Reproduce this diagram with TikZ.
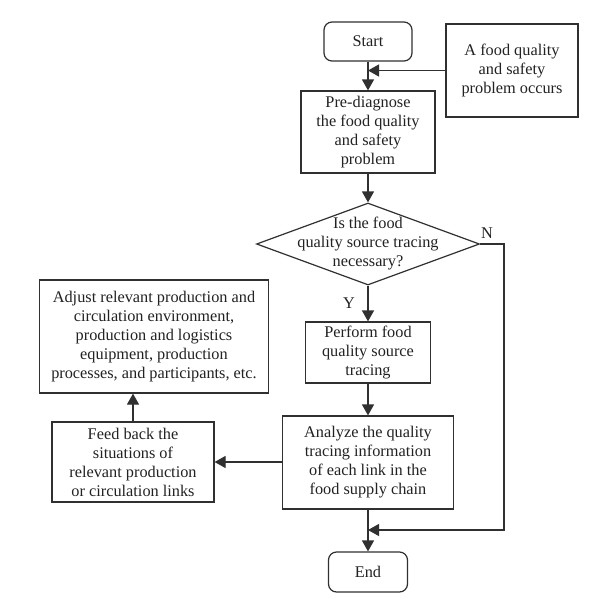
\documentclass[tikz,border=0pt]{standalone}
\usepackage{fontspec}
\setmainfont{Liberation Serif}
\usetikzlibrary{shapes.geometric,arrows.meta}
\definecolor{linec}{HTML}{303030}
\definecolor{textc}{HTML}{222222}
\begin{document}
\begin{tikzpicture}[x=1pt,y=-1pt,
  line/.style={draw=linec, line width=1.2pt},
  txt/.style={align=center, inner sep=0pt, font=\fontsize{16.3}{19}\selectfont, text=textc},
  box/.style={txt, draw=linec, line width=1.2pt, rectangle},
  term/.style={box, rounded corners=8pt},
  arr/.style={line, -{Triangle[length=11pt,width=12pt]}}
]
\useasboundingbox[fill=white] (0,0) rectangle (600,614);
\node[term, minimum width=88pt, minimum height=39pt] (start) at (368,41.5) {Start};
\node[box, minimum width=132pt, minimum height=93pt] (prob) at (512,70.5) {A food quality\\and safety\\problem occurs};
\node[box, minimum width=134pt, minimum height=82pt] (pre) at (368,132) {Pre-diagnose\\the food quality\\and safety\\problem};
\node[diamond, draw=linec, line width=1.2pt, minimum width=223pt, minimum height=82pt, inner sep=0pt] (dec) at (368,244) {};
\node[txt] (dectxt) at (dec.center) {Is the food\\quality source tracing\\necessary?};
\node[box, minimum width=125pt, minimum height=61pt] (perf) at (368,352.5) {Perform food\\quality source\\tracing};
\node[box, minimum width=171pt, minimum height=93pt] (ana) at (368,462.5) {Analyze the quality\\tracing information\\of each link in the\\food supply chain};
\node[term, minimum width=79pt, minimum height=40pt] (end) at (368,572) {End};
\node[box, minimum width=229pt, minimum height=113pt] (adj) at (154,336.5) {Adjust relevant production and\\circulation environment,\\production and logistics\\equipment, production\\processes, and participants, etc.};
\node[box, minimum width=162pt, minimum height=80pt] (feed) at (133,462) {Feed back the\\situations of\\relevant production\\or circulation links};
\coordinate (nx) at (504,244);
\coordinate (mrg) at (368,530);
\draw[arr] (start) -- (pre);
\draw[arr] (prob.west) -- (prob.west -| start.south);
\draw[arr] (pre) -- (dec);
\draw[arr] (dec.south) -- (perf.north);
\draw[arr] (perf) -- (ana);
\draw[arr] (ana) -- (end);
\draw[arr] (dec.east) -- (nx) |- (mrg);
\draw[arr] (ana.west |- feed.east) -- (feed.east);
\draw[arr] (feed.north) -- (feed.north |- adj.south);
\node[txt] (nlab) at (487,233) {N};
\node[txt] (ylab) at (349,303) {Y};
\end{tikzpicture}
\end{document}
